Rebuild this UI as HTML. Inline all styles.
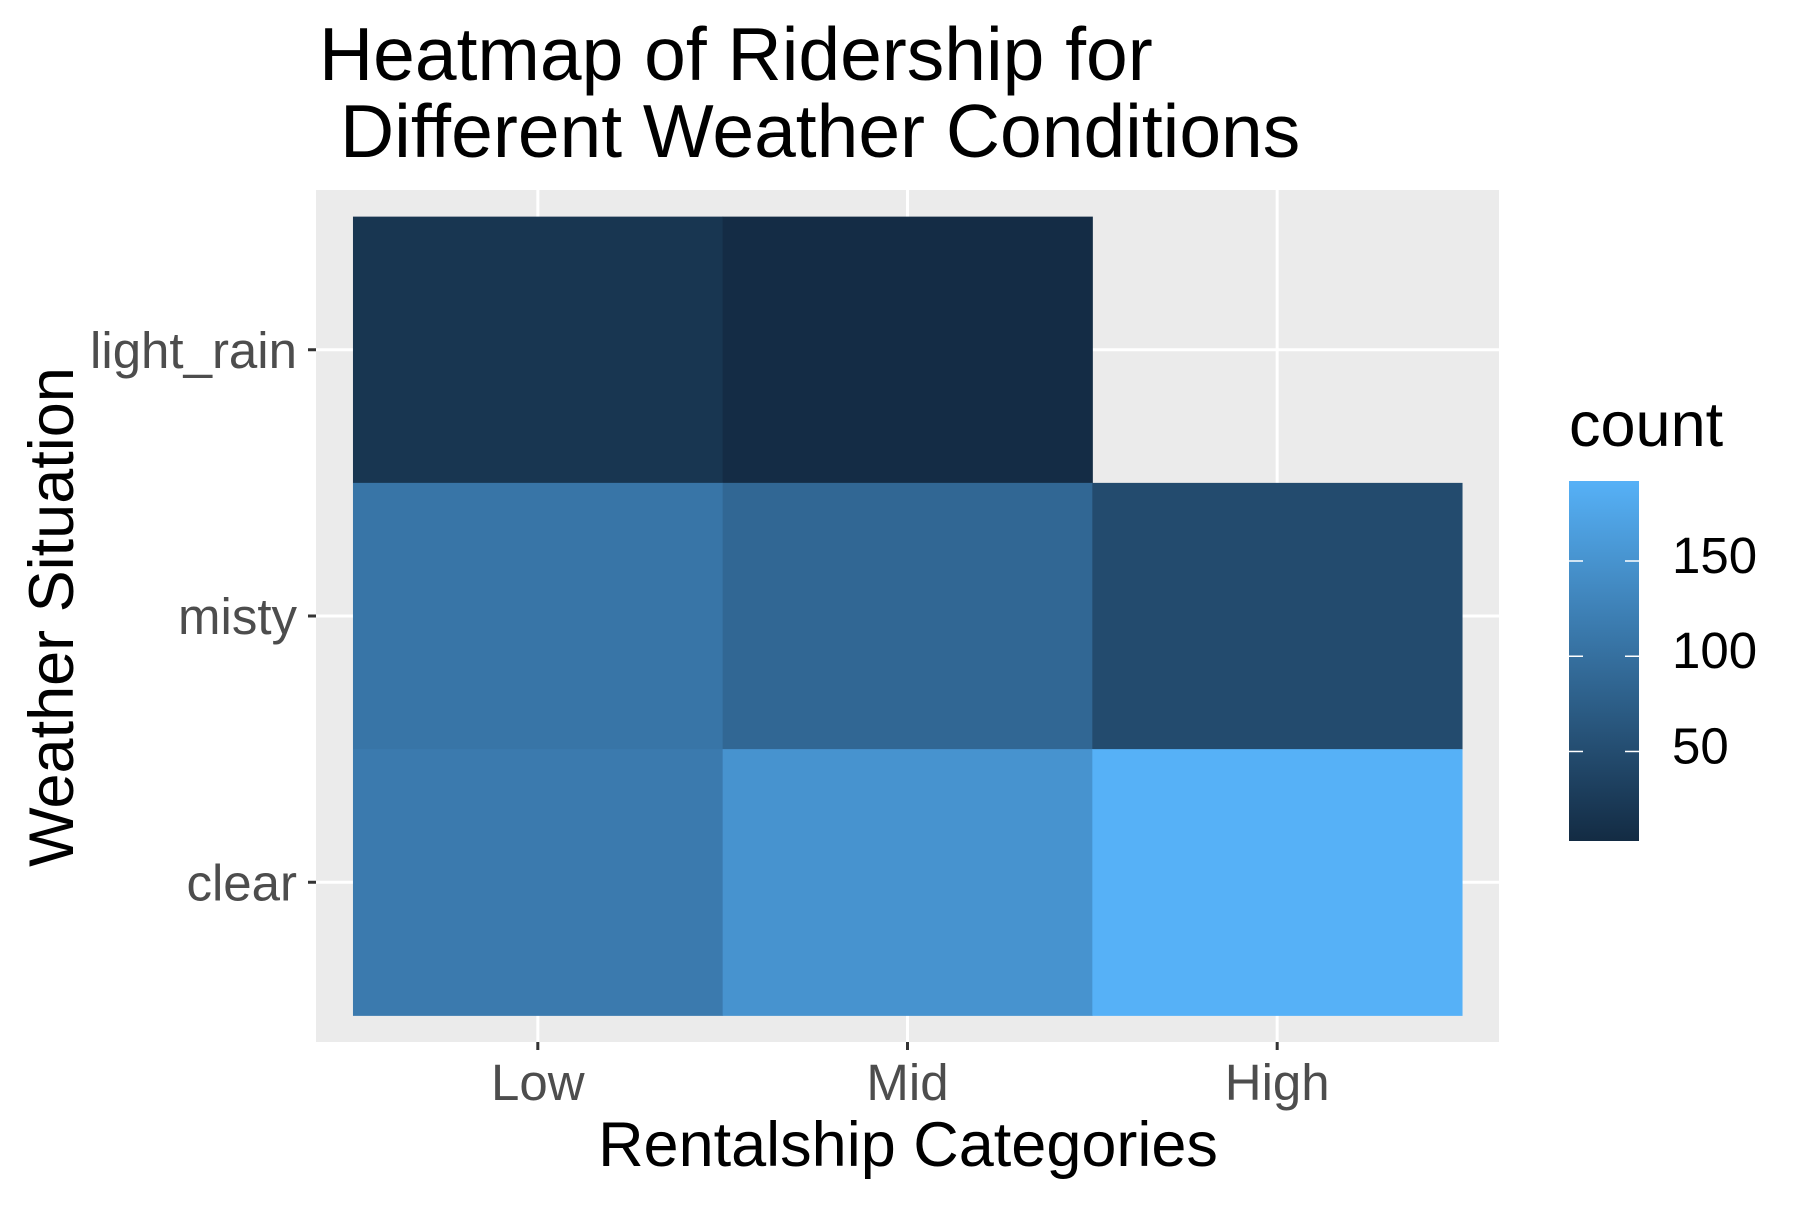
<!DOCTYPE html>
<html><head><meta charset="utf-8"><style>
body{margin:0;background:#fff}
svg text{font-family:"Liberation Sans",Arial,sans-serif}
</style></head><body>
<svg id="chart" width="1800" height="1200" viewBox="0 0 1800 1200" xmlns="http://www.w3.org/2000/svg">
<defs><linearGradient id="cg" x1="0" y1="1" x2="0" y2="0"><stop offset="0" stop-color="#132B43"/><stop offset="1" stop-color="#56B1F7"/></linearGradient></defs>
<text x="319" y="80" font-size="75" fill="#000">Heatmap of Ridership for</text>
<text x="340" y="157" font-size="75" fill="#000">Different Weather Conditions</text>
<rect x="316" y="190" width="1183" height="852" fill="#EBEBEB"/>
<g id="grid"></g>
<g id="cells"></g>
<g id="axes"></g>
<text x="908" y="1166" font-size="63" text-anchor="middle" fill="#000">Rentalship Categories</text>
<text transform="translate(73,617) rotate(-90)" font-size="63" text-anchor="middle" fill="#000">Weather Situation</text>
<text x="1569" y="446" font-size="63" fill="#000">count</text>
<rect x="1569" y="481" width="70" height="360" fill="url(#cg)"/>
<g id="legend"></g>
</svg>
<script>
const xCats = ["Low","Mid","High"];
const yCats = ["clear","misty","light_rain"];
const cellX = ["Low","Mid","Low","Mid","High","Low","Mid","High"];
const cellY = ["light_rain","light_rain","misty","misty","misty","clear","clear","clear"];
const cellVal = [18,5,108,88,48,115,150,192];
const legendTicks = [50,100,150];
const vMin = 3, vMax = 192;

const NS="http://www.w3.org/2000/svg";
const px0=316, px1=1499, py0=190, py1=1042;
const bandW=(px1-px0)/3.2, bandH=(py1-py0)/3.2;
function xPos(c){return px0+bandW*(0.6+xCats.indexOf(c));}
function yPos(c){return py1-bandH*(0.6+yCats.indexOf(c));}
function lerp(a,b,t){return Math.round(a+(b-a)*t);}
function color(v){const t=Math.max(0,Math.min(1,(v-vMin)/(vMax-vMin)));
 return `rgb(${lerp(19,86,t)},${lerp(43,177,t)},${lerp(67,247,t)})`;}
function legY(v){return 841-(v-vMin)/(vMax-vMin)*360;}
function mk(tag,attrs,parent){const e=document.createElementNS(NS,tag);for(const k in attrs)e.setAttribute(k,attrs[k]);parent.appendChild(e);return e;}
const grid=document.getElementById('grid'),cells=document.getElementById('cells'),axes=document.getElementById('axes'),leg=document.getElementById('legend');
xCats.forEach(c=>{const x=xPos(c);
 const l=mk('line',{x1:x,x2:x,y1:py0,y2:py1,stroke:'#fff','stroke-width':3},grid);
 
 
 const t=mk('line',{x1:x,x2:x,y1:py1,y2:py1+8,stroke:'#333','stroke-width':3},axes);
 
 
 const tx=mk('text',{x:x,y:1100,'font-size':51,'text-anchor':'middle',fill:'#4D4D4D'},axes);tx.textContent=c;
 
 
});
yCats.forEach(c=>{const y=yPos(c);
 const l=mk('line',{x1:px0,x2:px1,y1:y,y2:y,stroke:'#fff','stroke-width':3},grid);
 
 
 const t=mk('line',{x1:px0-8,x2:px0,y1:y,y2:y,stroke:'#333','stroke-width':3},axes);
 
 
 const tx=mk('text',{x:297,y:y+18,'font-size':51,'text-anchor':'end',fill:'#4D4D4D'},axes);tx.textContent=c;
 
 
});
cellVal.forEach((v,i)=>{const cx=xPos(cellX[i]),cy=yPos(cellY[i]);
 const r=mk('rect',{x:cx-bandW/2,y:cy-bandH/2,width:bandW+0.5,height:bandH+0.5,fill:color(v)},cells);
 
 
});
legendTicks.forEach(v=>{const y=legY(v);
 const a=mk('line',{x1:1569,x2:1583,y1:y,y2:y,stroke:'#fff','stroke-width':1.5},leg);
 
 
 const b=mk('line',{x1:1625,x2:1639,y1:y,y2:y,stroke:'#fff','stroke-width':1.5},leg);
 
 
 const t=mk('text',{x:1672,y:y+12,'font-size':51,fill:'#000'},leg);t.textContent=v;
 
 
});
</script>
</body></html>
